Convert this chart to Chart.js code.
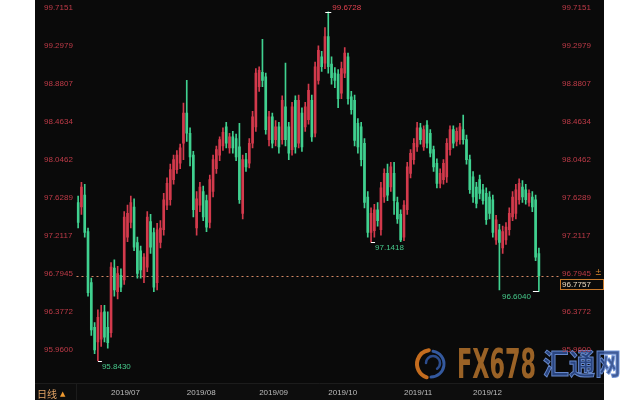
<!DOCTYPE html>
<html><head><meta charset="utf-8">
<script src="https://cdn.jsdelivr.net/npm/chart.js@4.4.1/dist/chart.umd.min.js"></script>
<style>html,body{margin:0;padding:0;background:#fff;}canvas{display:block}</style>
</head><body>
<canvas id="c" width="640" height="400"></canvas>
<script>
const dates = [
'06/17','06/18','06/19','06/20','06/21','06/24','06/25','06/26','06/27','06/28',
'07/01','07/02','07/03','07/04','07/05','07/08','07/09','07/10','07/11','07/12','07/15','07/16','07/17','07/18','07/19','07/22','07/23','07/24','07/25','07/26','07/29','07/30','07/31',
'08/01','08/02','08/05','08/06','08/07','08/08','08/09','08/12','08/13','08/14','08/15','08/16','08/19','08/20','08/21','08/22','08/23','08/26','08/27','08/28','08/29','08/30',
'09/02','09/03','09/04','09/05','09/06','09/09','09/10','09/11','09/12','09/13','09/16','09/17','09/18','09/19','09/20','09/23','09/24','09/25','09/26','09/27','09/30',
'10/01','10/02','10/03','10/04','10/07','10/08','10/09','10/10','10/11','10/14','10/15','10/16','10/17','10/18','10/21','10/22','10/23','10/24','10/25','10/28','10/29','10/30','10/31',
'11/01','11/04','11/05','11/06','11/07','11/08','11/11','11/12','11/13','11/14','11/15','11/18','11/19','11/20','11/21','11/22','11/25','11/26','11/27','11/28','11/29',
'12/02','12/03','12/04','12/05','12/06','12/09','12/10','12/11','12/12','12/13','12/16','12/17','12/18','12/19','12/20','12/23','12/24','12/25','12/26','12/27','12/30',
'12/31','01/02','01/03','01/06','01/07'];
const tickMap = {'07/01':'2019/07','08/01':'2019/08','09/02':'2019/09','10/01':'2019/10','11/01':'2019/11','12/02':'2019/12'};

const open = [97.58,97.53,97.66,97.26,96.70,96.21,96.05,96.08,96.38,96.21,
96.15,96.86,96.60,96.78,96.73,97.20,97.36,97.53,97.14,97.05,
96.76,96.87,97.37,97.25,96.70,97.14,97.28,97.55,97.61,97.83,
97.94,98.01,98.23,98.56,98.34,98.10,97.30,97.55,97.70,97.60,
97.36,97.70,97.95,98.10,98.20,98.41,98.18,98.30,98.28,98.19,
97.46,98.05,98.01,98.23,98.41,98.85,99.01,98.96,98.27,98.52,
98.27,98.41,98.27,98.63,98.41,98.16,98.70,98.23,98.56,98.41,
98.49,98.70,98.34,98.92,99.18,99.11,99.40,99.10,99.00,98.99,
98.78,99.00,99.18,98.74,98.70,98.45,98.41,98.23,97.64,97.25,
97.27,97.50,97.28,97.64,97.90,97.75,97.90,97.58,97.45,97.20,
97.50,97.90,98.05,98.19,98.40,98.19,98.43,98.34,98.16,98.01,
97.79,97.83,97.86,98.16,98.38,98.25,98.27,98.38,98.27,98.05,
97.86,97.75,97.83,97.72,97.68,97.64,97.61,97.17,97.28,97.08,
97.17,97.28,97.42,97.46,97.61,97.75,97.72,97.58,97.64,97.61,
97.02];
const high = [97.65,97.80,97.78,97.30,96.75,96.26,96.40,96.45,96.45,96.38,
96.92,96.95,96.88,96.85,97.48,97.55,97.65,97.62,97.20,97.10,
97.02,97.48,97.45,97.30,97.35,97.38,97.68,97.85,98.00,98.10,
98.15,98.22,98.67,98.92,98.40,98.14,97.70,97.80,97.76,97.66,
97.88,98.10,98.20,98.30,98.40,98.46,98.34,98.36,98.33,98.45,
98.10,98.12,98.28,98.58,99.05,99.07,99.37,99.00,98.58,98.56,
98.48,98.46,98.75,99.11,98.46,98.68,98.75,98.76,98.62,98.68,
98.88,98.76,99.12,99.30,99.24,99.50,99.6728,99.18,99.06,99.04,
99.12,99.28,99.22,98.80,98.76,98.50,98.46,98.28,97.70,97.52,
97.56,97.58,97.80,97.95,98.00,98.02,98.02,97.64,97.50,97.60,
98.02,98.16,98.28,98.46,98.45,98.42,98.48,98.38,98.20,98.06,
97.95,98.05,98.28,98.42,98.42,98.40,98.45,98.54,98.32,98.10,
97.92,97.80,97.88,97.78,97.74,97.70,97.66,97.44,97.34,97.32,
97.36,97.52,97.70,97.78,97.84,97.82,97.78,97.72,97.70,97.66,
97.08];
const low = [97.30,97.45,97.20,96.55,96.12,95.92,95.843,96.00,96.05,95.98,
96.10,96.55,96.52,96.60,96.68,97.15,97.30,97.05,96.75,96.75,
96.70,96.82,97.02,96.60,96.62,97.08,97.22,97.50,97.55,97.78,
97.90,97.95,98.05,98.25,97.98,97.42,97.22,97.48,97.38,97.26,
97.30,97.64,97.90,98.04,98.15,98.18,98.12,98.12,98.04,97.57,
97.40,97.92,97.96,98.18,98.36,98.80,98.85,98.33,98.20,98.18,
98.20,98.12,98.22,98.20,98.05,98.10,98.12,98.18,98.14,98.36,
98.44,98.25,98.30,98.88,99.02,99.05,99.00,98.88,98.84,98.62,
98.72,98.95,98.66,98.55,98.20,98.12,97.98,97.52,97.20,97.1418,
97.20,97.32,97.22,97.58,97.60,97.70,97.45,97.35,97.15,97.16,
97.45,97.85,98.00,98.14,98.22,98.15,98.18,98.08,97.92,97.74,
97.74,97.78,97.80,98.10,98.18,98.20,98.22,98.22,98.00,97.68,
97.58,97.52,97.62,97.56,97.34,97.40,97.20,97.12,96.62,97.02,
97.12,97.22,97.38,97.40,97.56,97.58,97.56,97.54,97.48,96.94,
96.604];
const close = [97.36,97.75,97.25,96.59,96.18,95.96,96.32,96.37,96.10,96.04,
96.87,96.62,96.80,96.65,97.42,97.46,97.58,97.09,96.80,96.84,
96.98,97.42,97.09,96.65,97.28,97.30,97.61,97.79,97.94,98.05,
98.10,98.18,98.56,98.34,98.08,97.50,97.62,97.75,97.42,97.31,
97.83,98.05,98.16,98.27,98.35,98.23,98.30,98.18,98.08,97.61,
98.05,97.97,98.23,98.52,99.00,99.03,98.92,98.38,98.52,98.23,
98.41,98.19,98.70,98.27,98.12,98.63,98.19,98.70,98.19,98.63,
98.81,98.30,99.07,99.25,99.07,99.40,99.07,98.95,98.92,98.72,
99.05,99.22,98.72,98.60,98.26,98.19,98.05,97.58,97.25,97.46,
97.50,97.38,97.74,97.90,97.66,97.97,97.60,97.40,97.17,97.55,
97.97,98.12,98.23,98.40,98.27,98.38,98.23,98.12,97.97,97.79,
97.90,98.01,98.23,98.38,98.23,98.36,98.41,98.27,98.05,97.72,
97.64,97.57,97.68,97.60,97.39,97.46,97.25,97.39,97.14,97.26,
97.31,97.46,97.64,97.72,97.79,97.64,97.61,97.68,97.53,96.98,
96.7757];
const yTicks = [95.9600,96.3772,96.7945,97.2117,97.6289,98.0462,98.4634,98.8807,99.2979,99.7151];
const marks = [{i:6,kind:'low'},{i:76,kind:'high'},{i:89,kind:'low'},{i:140,kind:'lowLeft'}];
const lastPrice = close[close.length-1];

const UP = '#d33a4c', DOWN = '#40d190';
const colors = close.map((c,i) => c >= open[i] ? UP : DOWN);
const FONT = '"Liberation Sans", Arial, sans-serif';

function line(ctx,x1,y1,x2,y2){ctx.beginPath();ctx.moveTo(x1,y1);ctx.lineTo(x2,y2);ctx.stroke();}

const bgPlugin = {
  id:'bg',
  beforeDraw(chart){
    const ctx = chart.ctx;
    ctx.save();
    ctx.fillStyle = '#ffffff'; ctx.fillRect(0,0,640,400);
    ctx.fillStyle = '#0a0a0a'; ctx.fillRect(35,0,569,400);
    ctx.fillStyle = '#0d0d0d'; ctx.fillRect(35,383,569,17);
    ctx.strokeStyle = '#1c1c1c'; ctx.lineWidth = 1;
    line(ctx,35,383.5,604,383.5);
    line(ctx,76.5,383,76.5,400);
    // watermark logo
    ctx.lineCap = 'round';
    ctx.strokeStyle = '#34599e'; ctx.lineWidth = 3;
    ctx.beginPath(); ctx.arc(431,364,13,-Math.PI*0.45,Math.PI*0.5); ctx.stroke();
    ctx.strokeStyle = '#c46c1e'; ctx.lineWidth = 4;
    ctx.beginPath(); ctx.arc(431,364,14,Math.PI*0.6,Math.PI*1.45); ctx.stroke();
    ctx.strokeStyle = '#2c4c8c'; ctx.lineWidth = 2.5;
    ctx.beginPath(); ctx.arc(433,363,7,Math.PI*1.0,Math.PI*2.3); ctx.stroke();
    // FX678
    ctx.font = 'bold 40px "Liberation Sans Narrow","DejaVu Sans Condensed","Liberation Sans",sans-serif';
    ctx.textBaseline = 'alphabetic'; ctx.textAlign = 'left';
    let w = ctx.measureText('FX678').width;
    ctx.save(); ctx.translate(457,378); ctx.scale(79/w,1);
    ctx.fillStyle = '#9a6226'; ctx.fillText('FX678',0,0); ctx.restore();
    // 汇通网
    ctx.font = 'bold 29px "Noto Sans CJK SC",sans-serif';
    ctx.textBaseline = 'middle';
    w = ctx.measureText('汇通网').width;
    ctx.save(); ctx.translate(543,364); ctx.scale(78/w,1);
    ctx.fillStyle = 'rgba(44,74,140,0.9)'; ctx.fillText('汇通网',0,0);
    ctx.strokeStyle = 'rgba(110,145,215,0.9)'; ctx.lineWidth = 1; ctx.strokeText('汇通网',0,0);
    ctx.restore();
    ctx.restore();
  },
  beforeDatasetsDraw(chart){
    const ctx = chart.ctx, ys = chart.scales.y, ca = chart.chartArea;
    const y = Math.round(ys.getPixelForValue(lastPrice)) + 0.5;
    ctx.save();
    ctx.strokeStyle = 'rgba(232,150,112,0.9)'; ctx.lineWidth = 1; ctx.setLineDash([2,3]);
    line(ctx, ca.left, y, 560, y);
    ctx.restore();
  },
  afterDraw(chart){
    const ctx = chart.ctx, xs = chart.scales.x, ys = chart.scales.y;
    ctx.save();
    // last price box
    const yp = Math.round(ys.getPixelForValue(lastPrice));
    ctx.fillStyle = '#0a0a0a'; ctx.fillRect(560,yp+3,44,10);
    ctx.strokeStyle = '#c8782a'; ctx.lineWidth = 1; ctx.strokeRect(560.5,yp+3.5,43,10);
    ctx.font = '8px ' + FONT; ctx.textBaseline = 'middle'; ctx.textAlign = 'left';
    ctx.fillStyle = '#ead8c0'; ctx.fillText(lastPrice.toFixed(4), 562, yp+8.5);
    ctx.fillStyle = '#d8862e'; ctx.font = '8px "DejaVu Sans",sans-serif';
    ctx.fillText('±', 595, yp-3);
    // extreme markers
    ctx.font = '8px ' + FONT;
    marks.forEach(m => {
      const x = xs.getPixelForValue(m.i);
      ctx.strokeStyle = '#ffffff'; ctx.lineWidth = 1;
      if (m.kind === 'high') {
        const y = Math.round(ys.getPixelForValue(high[m.i])) + 0.5;
        line(ctx, x-3, y, x+3, y);
        ctx.fillStyle = '#e2424f'; ctx.textAlign = 'left';
        ctx.fillText(high[m.i].toFixed(4), x+4, y-5);
      } else if (m.kind === 'low') {
        const y = Math.round(ys.getPixelForValue(low[m.i])) + 0.5;
        line(ctx, x, y, x+4, y);
        ctx.fillStyle = '#46c98b'; ctx.textAlign = 'left';
        ctx.fillText(low[m.i].toFixed(4), x+4, y+5.5);
      } else {
        const y = Math.round(ys.getPixelForValue(low[m.i])) + 0.5;
        line(ctx, x-6, y, x, y);
        ctx.fillStyle = '#46c98b'; ctx.textAlign = 'right';
        ctx.fillText(low[m.i].toFixed(4), x-8, y+5.5);
      }
    });
    // period label
    ctx.textAlign = 'left'; ctx.textBaseline = 'middle';
    ctx.font = '10px "Noto Sans CJK SC",sans-serif';
    ctx.fillStyle = '#e2a466'; ctx.fillText('日线', 37, 394);
    ctx.font = '7px "DejaVu Sans",sans-serif';
    ctx.fillStyle = '#f09a30'; ctx.fillText('▲', 60, 394);
    ctx.restore();
  }
};

function yAxis(pos, width, extra){
  return Object.assign({
    position: pos, min: 95.5977, max: 99.8029,
    grid: {display:false, drawTicks:false}, border: {display:false},
    afterBuildTicks(s){ s.ticks = yTicks.map(v => ({value:v})); },
    afterFit(s){ s.width = width; s.paddingTop = 0; s.paddingBottom = 0; }
  }, extra);
}

new Chart(document.getElementById('c'), {
  type: 'bar',
  data: {
    labels: dates,
    datasets: [
      {label:'body', data: open.map((o,i) => [o, close[i]]), backgroundColor: colors,
       barThickness: 2, minBarLength: 1, grouped: false, order: 0, yAxisID: 'y'},
      {label:'wick', data: low.map((l,i) => [l, high[i]]), backgroundColor: colors,
       barThickness: 1, grouped: false, order: 1, yAxisID: 'y'}
    ]
  },
  options: {
    responsive: false, devicePixelRatio: 1, animation: false,
    layout: {padding: {left: 44, right: 36, top: 0, bottom: 0}},
    plugins: {legend: {display:false}, tooltip: {enabled:false}},
    scales: {
      x: {
        type: 'category', offset: true,
        grid: {display:false, drawTicks:false}, border: {display:false},
        ticks: {autoSkip:false, maxRotation:0, minRotation:0, align:'start', padding:5,
                color:'#bdbdbd', font:{family:FONT, size:8},
                callback: (v,i) => tickMap[dates[i]] || ''},
        afterFit(s){ s.height = 17; s.paddingLeft = 0; s.paddingRight = 0; }
      },
      y: yAxis('left', 32.5, {ticks:{crossAlign:'far', padding:0, color:'#bf3b48', font:{family:FONT,size:8}, callback: v => Number(v).toFixed(4)}}),
      y2: yAxis('right', 47, {ticks:{padding:5, color:'#bf3b48', font:{family:FONT,size:8}, callback: v => Number(v).toFixed(4)}})
    }
  },
  plugins: [bgPlugin]
});
</script>
</body></html>
